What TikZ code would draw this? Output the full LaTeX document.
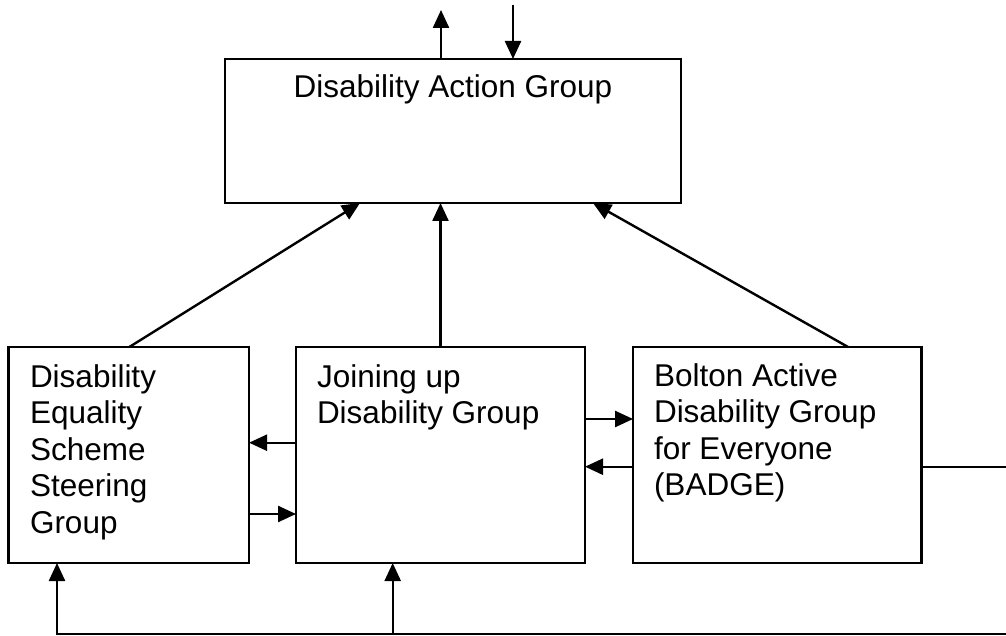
\documentclass[tikz,border=0pt]{standalone}
\usepackage{fontspec}
\setmainfont{Liberation Sans}
\usetikzlibrary{arrows.meta,calc}
\tikzset{
  box/.style={draw, line width=2.4pt, inner sep=0pt, outer sep=0pt},
  lbl/.style={inner sep=0pt, outer sep=0pt, font=\fontsize{31.5}{36.5}\selectfont},
  conn/.style={line width=2.4pt},
  arr/.style={conn, -{Triangle[length=18pt,width=16pt]}},
}
\begin{document}
\begin{tikzpicture}[x=1pt,y=-1pt]
\useasboundingbox (0,0) rectangle (1006,636);
% boxes
\node[box, minimum width=456pt, minimum height=144pt] (top) at (453,131) {};
\node[box, minimum width=240.7pt, minimum height=216pt] (left) at (128.7,455) {};
\node[box, minimum width=289pt, minimum height=216pt] (mid) at (440.5,455) {};
\node[box, minimum width=288.5pt, minimum height=216pt] (right) at (777.3,455) {};
% labels
\node[lbl, anchor=base] (ttop) at (453,98) {Disability Action Group};
\node[lbl, anchor=base west] (tleft) at (30,387) {\begin{tabular}[t]{@{}l@{}}Disability\\Equality\\Scheme\\Steering\\Group\end{tabular}};
\node[lbl, anchor=base west] (tmid) at (317,387) {\begin{tabular}[t]{@{}l@{}}Joining up\\Disability Group\end{tabular}};
\node[lbl, anchor=base west] (tright) at (654,386) {\begin{tabular}[t]{@{}l@{}}Bolton Active\\Disability Group\\for Everyone\\(BADGE)\end{tabular}};
% free ends
\coordinate (outA) at (441,10);
\coordinate (inA) at (513,5);
\coordinate (rEnd) at (1006,466.7);
\coordinate (bL) at (57,634);
\coordinate (bR) at (1006,634);
\coordinate (bM) at (392.7,634);
% top arrows
\draw[arr] (top.north -| outA) -- (outA);
\draw[arr] (inA) -- (top.north -| inA);
% to top box
\draw[arr] ([xshift=121pt]left.north west) -- ([xshift=135pt]top.south west);
\draw[arr] (mid.north) -- (mid.north |- top.south);
\draw[arr] ([xshift=215pt]right.north west) -- ([xshift=368pt]top.south west);
% between lower boxes
\draw[arr] (mid.west |- 0,442.7) -- (left.east |- 0,442.7);
\draw[arr] (left.east |- 0,514) -- (mid.west |- 0,514);
\draw[arr] (mid.east |- 0,419) -- (right.west |- 0,419);
\draw[arr] (right.west |- 0,466.7) -- (mid.east |- 0,466.7);
% right and bottom lines
\draw[conn] (right.east |- rEnd) -- (rEnd);
\draw[arr] (bR) -- (bL) -- (left.south -| bL);
\draw[arr] (bM) -- (mid.south -| bM);
\end{tikzpicture}
\end{document}
